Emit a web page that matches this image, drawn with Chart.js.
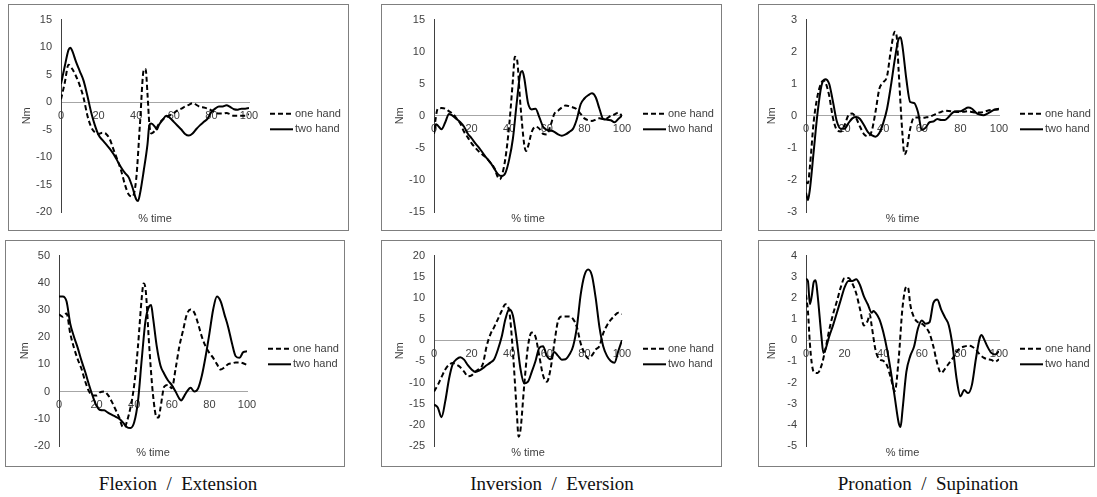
<!DOCTYPE html>
<html>
<head>
<meta charset="utf-8">
<script src="https://cdn.jsdelivr.net/npm/chart.js@4.4.0/dist/chart.umd.min.js"></script>
<style>
  html, body { margin: 0; padding: 0; background: #fff; }
  body { width: 1097px; height: 497px; position: relative; overflow: hidden; }
  .panel { position: absolute; outline: 1px solid #7f7f7f; outline-offset: -1px; }
  .panel canvas { position: absolute; left: 0; top: 0; }
  .caption { position: absolute; top: 473px; font-family: "Liberation Serif", "DejaVu Serif", serif;
             font-size: 19px; color: #111; white-space: pre; transform: translateX(-50%); }
</style>
</head>
<body>
<div class="caption" style="left:178px">Flexion  /  Extension</div>
<div class="caption" style="left:552px">Inversion  /  Eversion</div>
<div class="caption" style="left:928px">Pronation  /  Supination</div>

<script>
// [% time, Nm] pairs
const flexOne = [[0,0.5],[2,3.5],[4,6.8],[6,6.0],[8,4.7],[10,3.0],[12,0.8],[14,-2.4],[16,-4.5],[18,-5.5],[20,-5.8],[22,-5.6],[24,-5.8],[26,-6.8],[28,-8.7],[30,-10.5],[32,-12.5],[34,-15.0],[36,-16.8],[38,-17.2],[40,-14.0],[42,-4.0],[44,5.8],[45,6.0],[46,1.5],[47,-4.0],[48,-5.7],[50,-5.2],[52,-4.0],[54,-3.2],[56,-2.7],[58,-2.4],[60,-2.0],[62,-1.5],[64,-1.2],[66,-0.8],[68,-0.5],[70,-0.2],[72,-0.5],[74,-0.9],[76,-1.0],[78,-1.2],[80,-1.5],[82,-1.9],[84,-2.1],[86,-2.1],[88,-2.0],[90,-2.2],[92,-2.5],[94,-2.5],[96,-2.5],[98,-2.5],[100,-2.2]];
const flexTwo = [[0,3.3],[2,6.5],[4,9.5],[5,9.9],[6,9.3],[8,7.3],[10,5.6],[12,3.9],[14,1.2],[16,-1.8],[18,-4.2],[20,-6.0],[22,-6.9],[24,-7.7],[26,-8.5],[28,-9.5],[30,-10.7],[32,-11.9],[34,-12.9],[36,-13.7],[38,-15.5],[40,-17.7],[41,-18.0],[42,-16.7],[44,-12.5],[46,-7.7],[47,-4.2],[48,-3.9],[50,-4.5],[51,-5.0],[52,-4.2],[54,-3.3],[56,-2.5],[58,-2.9],[60,-3.6],[62,-4.3],[64,-5.0],[66,-5.8],[68,-6.1],[70,-5.7],[72,-4.9],[74,-4.2],[76,-3.6],[78,-3.0],[80,-1.8],[82,-1.2],[84,-0.8],[86,-0.8],[88,-0.6],[90,-0.9],[92,-1.3],[94,-1.4],[96,-1.2],[98,-1.2],[100,-1.1]];
const invOne = [[0,-2.2],[2,1.1],[4,1.2],[6,1.1],[8,0.7],[10,0.3],[12,-0.4],[14,-1.2],[16,-2.5],[18,-3.4],[20,-4.3],[22,-5.0],[24,-5.6],[26,-6.1],[28,-6.6],[30,-7.3],[32,-8.1],[34,-9.6],[35,-9.9],[36,-9.4],[38,-6.6],[40,-1.5],[42,5.7],[43,9.2],[44,9.0],[46,1.6],[48,-4.5],[49,-5.5],[50,-4.8],[52,-2.5],[54,-1.7],[56,-2.0],[58,-2.8],[60,-2.9],[62,-1.5],[64,0.3],[66,0.8],[68,1.3],[70,1.6],[72,1.5],[74,1.3],[76,1.0],[78,0.3],[80,-0.4],[82,-0.7],[84,-0.8],[86,-0.6],[88,-0.4],[90,-0.5],[92,-0.4],[94,0.0],[96,0.2],[98,0.5],[100,0.0]];
const invTwo = [[0,-2.8],[1,-1.3],[2,-1.5],[4,-2.1],[6,-1.0],[8,0.3],[10,0.0],[12,-0.5],[14,-1.0],[16,-1.7],[18,-2.8],[20,-3.5],[22,-4.3],[24,-5.0],[26,-5.8],[28,-6.6],[30,-7.3],[32,-8.2],[34,-9.1],[36,-9.4],[38,-8.9],[40,-6.8],[42,-3.5],[44,2.0],[46,6.7],[47,7.0],[48,5.9],[50,2.0],[52,1.0],[54,1.1],[56,-0.2],[58,-1.7],[60,-2.2],[62,-2.3],[64,-2.5],[66,-2.9],[68,-3.1],[70,-2.9],[72,-2.5],[74,-2.0],[76,-0.5],[78,1.8],[80,2.7],[82,3.2],[84,3.5],[86,2.9],[88,1.1],[90,-0.5],[92,-0.6],[94,-0.7],[96,-1.0],[98,-0.5],[100,0.0]];
const pronOne = [[0,-2.07],[1,-2.1],[2,-1.6],[4,-0.18],[6,0.63],[8,1.04],[9,1.1],[10,1.05],[12,0.63],[14,-0.08],[16,-0.44],[18,-0.49],[20,-0.29],[22,0.02],[24,0.07],[26,-0.08],[28,-0.34],[30,-0.57],[32,-0.64],[34,-0.49],[36,0.12],[38,0.84],[40,1.04],[42,1.24],[44,2.06],[46,2.62],[47,2.47],[48,1.4],[50,-0.6],[51,-1.2],[52,-1.1],[54,-0.4],[56,-0.05],[58,-0.05],[60,-0.06],[62,-0.05],[64,-0.03],[66,0.02],[68,0.08],[70,0.12],[72,0.16],[74,0.15],[76,0.13],[78,0.12],[80,0.12],[82,0.13],[84,0.14],[86,0.12],[88,0.1],[90,0.1],[92,0.12],[94,0.16],[96,0.18],[98,0.19],[100,0.2]];
const pronTwo = [[0,-2.4],[1,-2.63],[2,-2.3],[4,-1.1],[6,0.1],[8,0.94],[10,1.14],[12,1.0],[14,0.43],[16,-0.18],[18,-0.4],[20,-0.4],[22,-0.23],[24,-0.08],[26,-0.04],[28,-0.1],[30,-0.29],[32,-0.5],[34,-0.6],[36,-0.65],[38,-0.54],[40,-0.23],[42,0.22],[44,0.94],[46,1.75],[48,2.4],[49,2.45],[50,2.16],[52,1.14],[54,0.43],[56,0.4],[58,0.12],[60,-0.44],[62,-0.37],[64,-0.2],[66,-0.18],[68,-0.1],[70,-0.13],[72,-0.13],[74,-0.03],[76,0.1],[78,0.14],[80,0.14],[82,0.2],[84,0.26],[86,0.22],[88,0.1],[90,0.04],[92,0.02],[94,0.07],[96,0.14],[98,0.2],[100,0.22]];
const flex2One = [[0,28.4],[2,27.5],[4,28.7],[6,21.3],[8,16.0],[10,11.8],[12,8.3],[14,3.6],[16,0.0],[18,-1.4],[20,-1.4],[22,-0.2],[24,0.0],[26,-1.2],[28,-3.6],[30,-6.5],[32,-9.5],[34,-13.0],[35,-13.0],[36,-11.3],[38,-5.9],[40,2.4],[42,16.6],[44,34.4],[45,39.7],[46,37.9],[48,16.6],[50,-1.2],[52,-9.5],[53,-9.5],[54,-5.9],[56,1.8],[58,2.4],[60,1.2],[62,8.3],[64,16.6],[66,22.5],[68,28.4],[70,30.2],[72,29.0],[74,24.9],[76,20.1],[78,16.6],[80,14.2],[82,12.4],[84,10.1],[86,8.1],[88,8.9],[90,10.1],[92,10.4],[94,10.7],[96,10.7],[98,10.4],[100,9.8]];
const flex2Two = [[0,35.0],[2,35.0],[4,33.2],[6,24.9],[8,20.1],[10,16.0],[12,11.3],[14,7.1],[16,2.4],[18,-1.8],[20,-5.3],[22,-6.8],[24,-6.9],[26,-7.7],[28,-8.5],[30,-9.2],[32,-10.0],[34,-11.3],[36,-13.0],[38,-13.4],[40,-11.3],[42,-3.6],[44,11.8],[46,26.0],[48,31.4],[49,31.8],[50,27.3],[52,16.6],[54,9.5],[56,6.5],[58,4.1],[60,2.4],[62,0.0],[64,-2.6],[65,-3.3],[66,-2.4],[68,0.0],[70,1.4],[72,0.0],[74,1.2],[76,5.9],[78,13.0],[80,21.3],[82,30.2],[84,35.0],[86,33.2],[88,28.4],[90,23.7],[92,17.8],[94,13.0],[96,12.4],[98,14.5],[100,14.8]];
const inv2One = [[0,-12.1],[2,-10.6],[4,-8.7],[6,-6.9],[8,-5.8],[10,-5.4],[12,-5.8],[14,-6.4],[16,-7.4],[18,-8.5],[20,-8.3],[22,-7.4],[24,-6.8],[26,-5.6],[28,-1.4],[30,1.4],[32,3.1],[34,5.0],[36,6.9],[38,8.5],[40,6.9],[42,-3.0],[44,-16.7],[45,-22.8],[46,-21.2],[48,-10.6],[50,-1.4],[52,1.8],[54,0.8],[56,-3.7],[58,-8.3],[60,-9.8],[62,-6.8],[64,-0.7],[66,4.6],[68,5.6],[70,5.6],[72,5.6],[74,5.0],[76,3.1],[78,-0.7],[80,-3.0],[82,-4.3],[84,-3.6],[86,-2.2],[88,-1.4],[90,1.6],[92,3.5],[94,4.8],[96,5.8],[98,6.5],[100,6.2]];
const inv2Two = [[0,-15.2],[2,-15.9],[4,-18.2],[6,-14.4],[8,-9.1],[10,-5.6],[12,-4.5],[14,-4.0],[16,-4.6],[18,-5.9],[20,-6.9],[22,-7.5],[24,-7.2],[26,-6.6],[28,-5.9],[30,-5.3],[32,-4.5],[34,-2.2],[36,0.8],[38,5.0],[40,7.3],[42,5.8],[44,0.1],[46,-6.8],[48,-10.2],[50,-9.8],[52,-7.5],[54,-4.9],[56,-1.8],[58,-1.4],[60,-3.7],[62,-4.5],[64,-2.8],[66,-3.7],[68,-4.6],[70,-4.5],[72,-3.4],[74,-1.4],[76,3.1],[78,10.7],[80,15.3],[82,16.7],[84,15.3],[86,10.0],[88,3.1],[90,-1.4],[92,-3.7],[94,-4.9],[96,-5.3],[98,-2.6],[100,0.0]];
const pron2One = [[0,2.15],[1,1.38],[2,-0.14],[3,-1.1],[4,-1.5],[6,-1.55],[8,-1.2],[10,-0.45],[12,0.47],[14,1.23],[16,1.84],[18,2.5],[20,2.94],[22,2.94],[24,2.68],[26,2.22],[28,1.46],[30,0.7],[32,0.93],[33,1.23],[34,0.7],[36,-0.45],[38,-0.9],[40,-0.97],[42,-1.2],[44,-1.8],[46,-2.4],[48,-0.9],[50,1.54],[52,2.53],[53,2.45],[54,1.7],[56,1.08],[58,0.85],[60,0.78],[62,0.62],[64,0.32],[66,-0.3],[68,-1.1],[70,-1.55],[72,-1.35],[74,-1.1],[76,-0.85],[78,-0.55],[80,-0.37],[82,-0.3],[84,-0.26],[86,-0.3],[88,-0.44],[90,-0.67],[92,-0.82],[94,-0.9],[96,-0.93],[98,-1.02],[100,-0.9]];
const pron2Two = [[0,2.9],[1,2.8],[2,1.7],[3,2.1],[4,2.75],[5,2.83],[6,2.15],[8,0.17],[9,-0.6],[10,-0.45],[12,0.17],[14,0.7],[16,1.3],[18,1.9],[20,2.5],[22,2.8],[24,2.8],[26,2.88],[28,2.6],[30,2.07],[32,1.7],[34,1.3],[35,1.38],[36,1.3],[38,1.0],[40,0.4],[42,-0.44],[44,-1.5],[46,-2.7],[48,-3.9],[49,-4.1],[50,-3.3],[52,-1.5],[54,-0.75],[56,-0.3],[58,0.55],[60,0.93],[62,0.78],[64,0.85],[66,1.77],[68,1.92],[70,1.46],[72,1.08],[74,0.7],[76,-0.3],[78,-1.8],[80,-2.65],[82,-2.35],[84,-2.5],[86,-2.1],[88,-0.9],[90,0.1],[91,0.25],[92,0.1],[94,-0.3],[96,-0.6],[98,-0.67],[100,-0.52]];

const seriesNames = ["one hand", "two hand"];
const xTicks = [0, 20, 40, 60, 80, 100];

// frame [left, top, right, bottom], plot area [left, top, right, bottom], y range [min, max, step]
const panels = [
  { frame: [8, 4, 349, 231],    area: [61, 16, 249, 212],   y: [-20, 15, 5], one: flexOne,  two: flexTwo },
  { frame: [381, 4, 722, 231],  area: [434, 16, 622, 212],  y: [-15, 15, 5], one: invOne,   two: invTwo },
  { frame: [758, 4, 1095, 231], area: [806, 16, 999, 212],  y: [-3, 3, 1],   one: pronOne,  two: pronTwo },
  { frame: [5, 240, 345, 467],  area: [59, 249, 247, 446],  y: [-20, 50, 10], one: flex2One, two: flex2Two },
  { frame: [381, 240, 722, 467],area: [434, 249, 622, 446], y: [-25, 20, 5], one: inv2One,  two: inv2Two },
  { frame: [758, 240, 1095, 467],area: [806, 249, 999, 446],y: [-5, 4, 1],   one: pron2One, two: pron2Two },
];

const FONT = "'Liberation Sans', Arial, sans-serif";
const TEXT = "#404040";
const Y_W = 40;

const decor = {
  id: "decor",
  afterDraw(chart) {
    const ctx = chart.ctx;
    const a = chart.chartArea;
    const mid = (a.top + a.bottom) / 2;
    ctx.save();
    ctx.fillStyle = TEXT;
    ctx.font = "11px " + FONT;
    ctx.textAlign = "center";
    ctx.textBaseline = "middle";
    ctx.fillText("% time", (a.left + a.right) / 2, a.bottom + 7);
    ctx.save();
    ctx.translate(a.left - 34, mid);
    ctx.rotate(-Math.PI / 2);
    ctx.fillText("Nm", 0, 0);
    ctx.restore();
    // legend
    const rows = [mid - 2, mid + 13.5];
    ctx.textAlign = "left";
    rows.forEach((ry, i) => {
      ctx.beginPath();
      ctx.strokeStyle = "#000";
      ctx.lineWidth = 2;
      ctx.setLineDash(i === 0 ? [5, 3] : []);
      ctx.moveTo(a.right + 21, ry);
      ctx.lineTo(a.right + 44, ry);
      ctx.stroke();
      ctx.setLineDash([]);
      ctx.fillText(seriesNames[i], a.right + 46, ry);
    });
    ctx.restore();
  }
};

panels.forEach((p) => {
  const [fl, ft, fr, fb] = p.frame;
  const [al, at, ar, ab] = p.area;
  const div = document.createElement("div");
  div.className = "panel";
  div.style.left = fl + "px";
  div.style.top = ft + "px";
  div.style.width = (fr - fl) + "px";
  div.style.height = (fb - ft) + "px";
  const cv = document.createElement("canvas");
  div.appendChild(cv);
  document.body.appendChild(div);

  const toXY = (arr) => arr.map(([x, y]) => ({ x, y }));

  new Chart(cv, {
    type: "line",
    data: {
      datasets: [
        { label: seriesNames[0], data: toXY(p.one), borderColor: "#000", borderWidth: 2,
          borderDash: [5, 3], pointRadius: 0, cubicInterpolationMode: "monotone", fill: false },
        { label: seriesNames[1], data: toXY(p.two), borderColor: "#000", borderWidth: 2,
          pointRadius: 0, cubicInterpolationMode: "monotone", fill: false },
      ],
    },
    options: {
      responsive: true,
      maintainAspectRatio: false,
      animation: false,
      events: [],
      layout: {
        padding: { left: al - fl - Y_W, top: at - ft, right: fr - ar, bottom: fb - ab },
      },
      plugins: { legend: { display: false }, tooltip: { enabled: false } },
      scales: {
        x: {
          type: "linear",
          min: 0, max: 100,
          position: { y: 0 },
          afterFit: (s) => { s.height = 0; },
          afterBuildTicks: (s) => { s.ticks = xTicks.map((v) => ({ value: v })); },
          grid: { display: false, drawTicks: false },
          border: { display: true, color: "#a6a6a6", width: 1 },
          ticks: { padding: 7, color: TEXT, font: { family: FONT, size: 11 }, maxRotation: 0 },
        },
        y: {
          min: p.y[0], max: p.y[1],
          afterFit: (s) => { s.width = Y_W; },
          grid: { display: false, drawTicks: false },
          border: { display: true, color: "#404040", width: 1 },
          ticks: { stepSize: p.y[2], padding: 9, color: TEXT, font: { family: FONT, size: 11 } },
        },
      },
    },
    plugins: [decor],
  });
});
</script>
</body>
</html>
